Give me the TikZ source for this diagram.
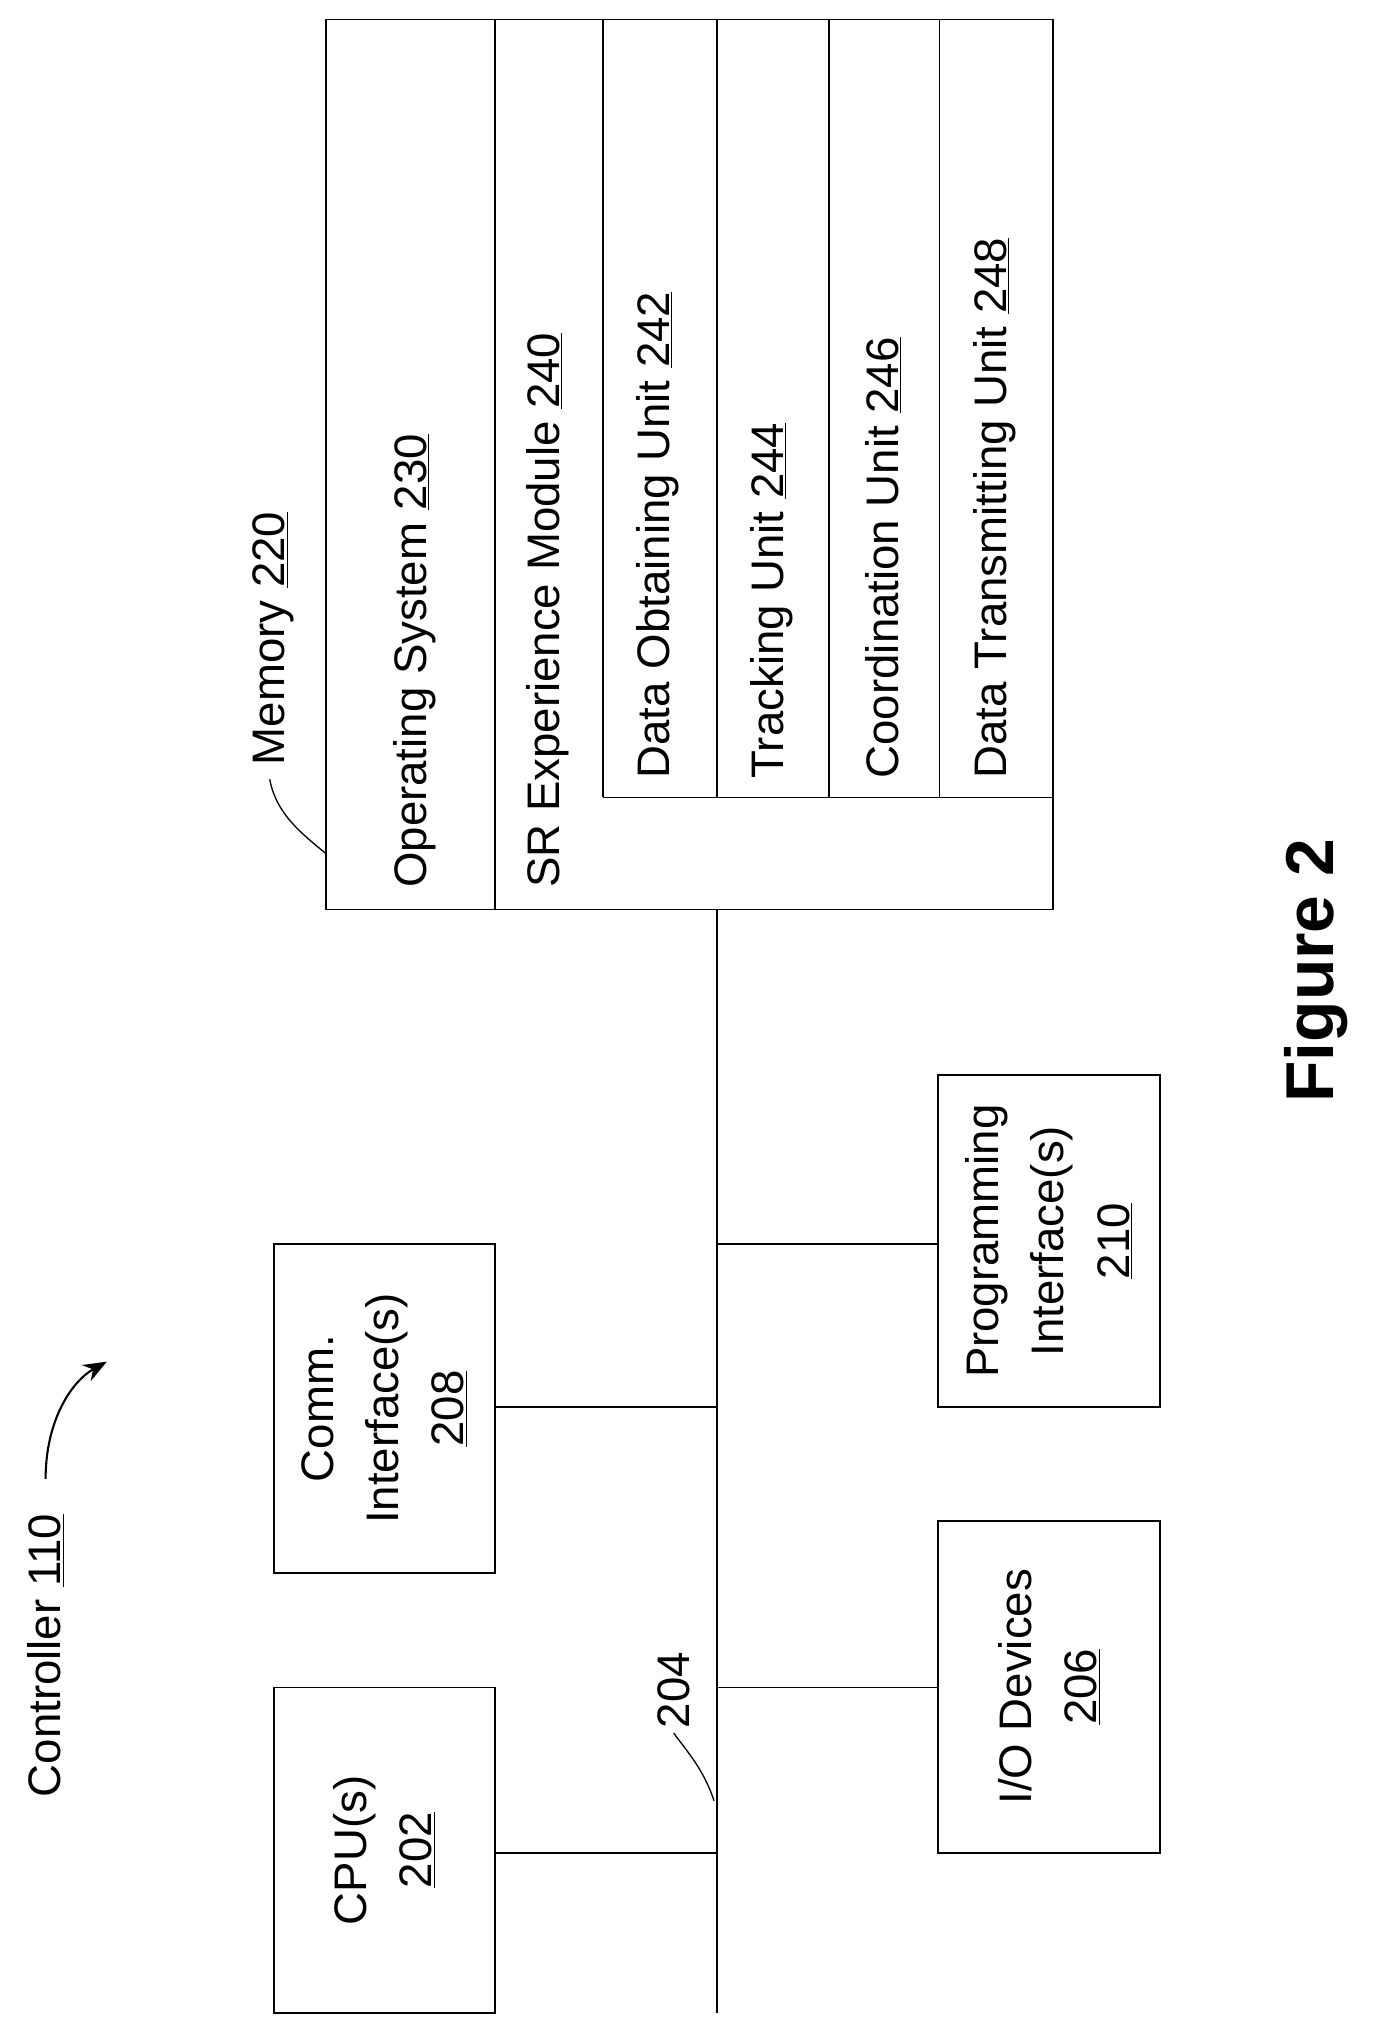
\documentclass[tikz,border=0pt]{standalone}
\usepackage{fontspec}
\setmainfont{Liberation Sans}
\newfontfamily\figfont{Liberation Sans}
\usetikzlibrary{arrows.meta}
\newcommand{\nm}[1]{\underline{#1}}
\begin{document}
\begin{tikzpicture}[x=1pt,y=-1pt,line width=1.4pt,
  box/.style={draw,rectangle,inner sep=0pt},
  lbl/.style={rotate=90,inner sep=0pt,font=\fontsize{35}{50}\selectfont,align=center},
  blbl/.style={lbl,anchor=west}]
\useasboundingbox (0,0) rectangle (1059,1561);
% Memory
\node[box,minimum width=558pt,minimum height=683pt] (mem) at (529,356.5) {};
\draw (380,15) -- (380,698);
\draw (463,612) -- (808,612);
\foreach \x in {463,550,636,721} \draw (\x,15) -- (\x,612);
\node[blbl] (os) at (318,682) {Operating System \nm{230}};
\node[blbl] (sr) at (420,682) {SR Experience Module \nm{240}};
\node[blbl] (dou) at (505,598) {Data Obtaining Unit \nm{242}};
\node[blbl] (tu) at (592,598) {Tracking Unit \nm{244}};
\node[blbl] (cu) at (678,598) {Coordination Unit \nm{246}};
\node[blbl] (dtu) at (763,598) {Data Transmitting Unit \nm{248}};
\node[blbl] (meml) at (210,588) {Memory \nm{220}};
\draw[line width=1pt] (250,655) .. controls (232,640) and (212,625) .. (207,598);
% Controller
\node[blbl] (ctl) at (35,1380) {Controller \nm{110}};
\draw[line width=1.6pt,-{Stealth[length=18pt,width=14pt]}] (35,1135) .. controls (35,1090) and (55,1060) .. (82,1045);
% boxes
\node[box,minimum width=170pt,minimum height=250pt] (cpu) at (295,1420) {};
\node[lbl] at (cpu) {CPU(s)\\\nm{202}};
\node[box,minimum width=170pt,minimum height=252pt] (comm) at (295,1081) {};
\node[lbl] at (comm) {Comm.\\Interface(s)\\\nm{208}};
\node[box,minimum width=170pt,minimum height=255pt] (io) at (805,1294.5) {};
\node[lbl] at (io) {I/O Devices\\\nm{206}};
\node[box,minimum width=170pt,minimum height=255pt] (prog) at (805,952.5) {};
\node[lbl] at (prog) {Programming\\Interface(s)\\\nm{210}};
% bus
\coordinate (btop) at (550,698);
\coordinate (bbot) at (550,1545);
\draw (btop) -- (bbot);
\draw (cpu.east |- 0,1422) -- (550,1422);
\draw (comm.east |- 0,1080) -- (550,1080);
\draw (550,1295) -- (io.west |- 0,1295);
\draw (550,955) -- (prog.west |- 0,955);
\node[blbl] (bus) at (517,1327) {204};
\draw[line width=1pt] (548,1382) .. controls (540,1358) and (528,1345) .. (517,1330);
\node[rotate=90,inner sep=0pt,font=\figfont\bfseries\fontsize{52}{60}\selectfont] (fig) at (1010,745) {Figure 2};
\end{tikzpicture}
\end{document}
